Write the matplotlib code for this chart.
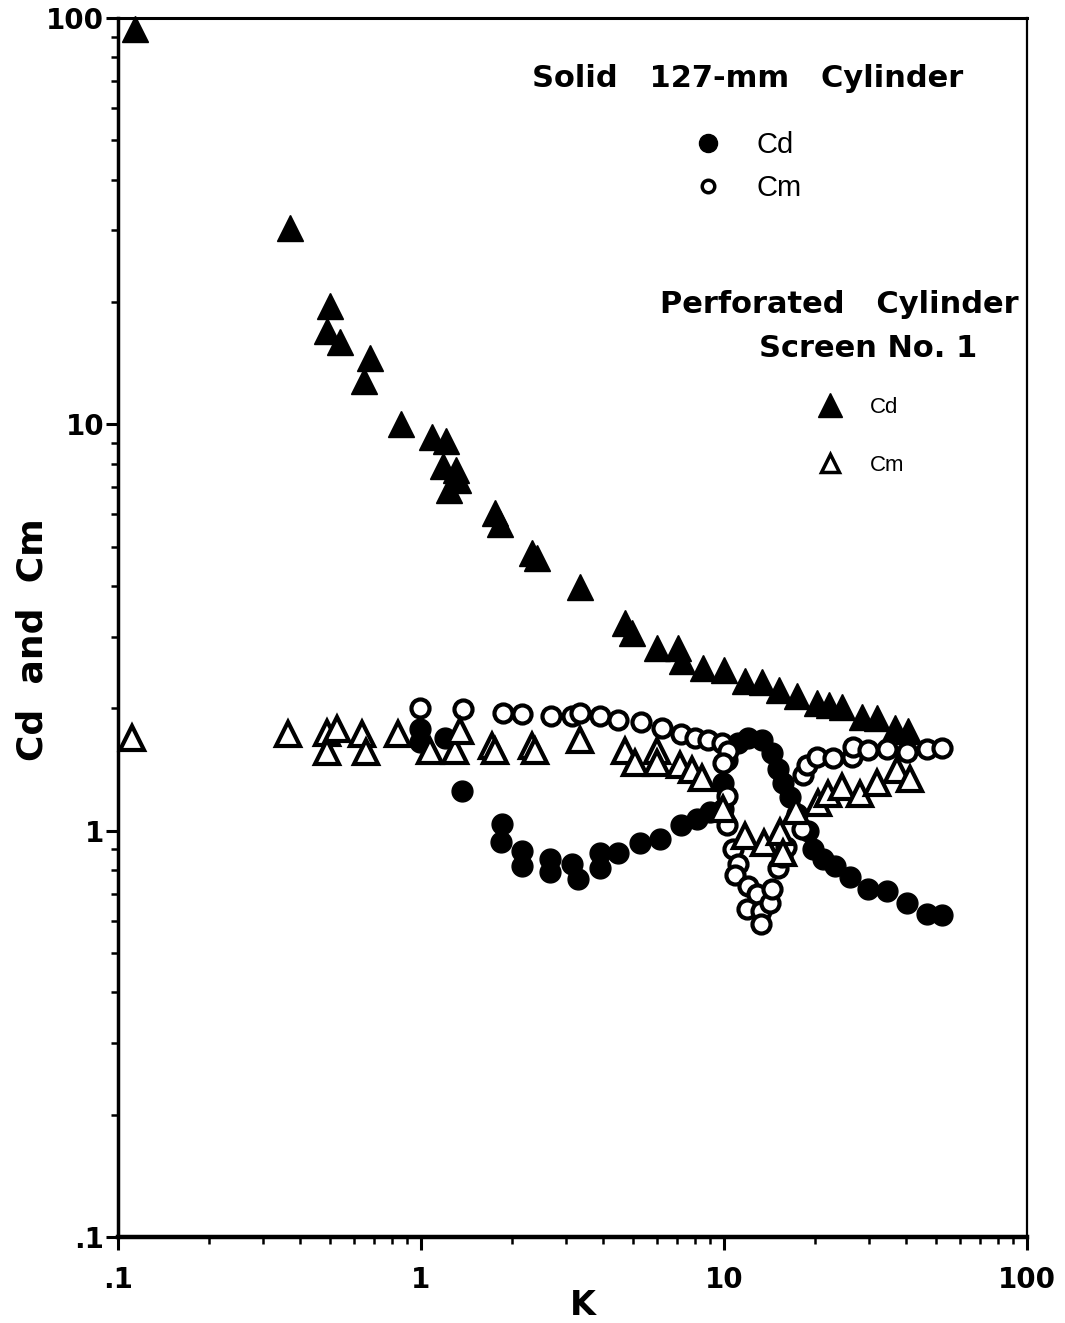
import matplotlib
matplotlib.use("Agg")
import matplotlib.pyplot as plt
from matplotlib.lines import Line2D
from matplotlib.ticker import FixedLocator, FixedFormatter, LogLocator, NullFormatter

plt.rcParams['font.family'] = ['Liberation Sans', 'DejaVu Sans']
BOLD = dict(family='DejaVu Sans', fontweight='bold')

# -- values (K, coefficient) ---------------------------------------------------
# perforated cylinder, screen no. 1 : Cd (filled triangles)
perf_cd_k = [0.114, 0.37, 0.50, 0.49, 0.54, 0.68, 0.65, 0.86, 1.09, 1.21,
             1.18, 1.30, 1.24, 1.32, 1.75, 1.82, 2.32, 2.41, 3.35, 4.71,
             4.97, 6.01, 7.05, 7.27, 8.53, 10.0, 11.7, 13.4, 15.2, 17.4,
             20.3, 22.2, 24.5, 28.5, 32.0, 36.7, 40.5]
perf_cd_c = [94, 30.4, 19.6, 17.0, 15.9, 14.6, 12.8, 10.0, 9.3, 9.1,
             7.9, 7.7, 6.9, 7.3, 6.04, 5.70, 4.81, 4.68, 3.97, 3.24,
             3.06, 2.82, 2.82, 2.62, 2.52, 2.49, 2.33, 2.32, 2.22, 2.15,
             2.06, 2.04, 2.02, 1.90, 1.89, 1.79, 1.76]

# perforated cylinder : Cm (open triangles)
perf_cm_k = [0.111, 0.364, 0.49, 0.53, 0.49, 0.64, 0.66, 0.84, 1.07, 1.29,
             1.34, 1.71, 1.75, 2.32, 2.38, 3.35, 4.71, 5.09, 6.01, 6.01,
             7.16, 7.84, 8.46, 9.93, 11.7, 13.6, 15.3, 15.7, 17.3, 20.4,
             22.0, 24.5, 28.1, 32.0, 37.2, 41.1]
perf_cm_c = [1.69, 1.73, 1.74, 1.78, 1.56, 1.73, 1.56, 1.73, 1.57, 1.57,
             1.76, 1.62, 1.57, 1.62, 1.57, 1.67, 1.57, 1.47, 1.57, 1.47,
             1.45, 1.41, 1.35, 1.13, 0.97, 0.93, 0.99, 0.88, 1.12, 1.17,
             1.23, 1.28, 1.23, 1.31, 1.41, 1.34]

# solid 127-mm cylinder : Cd (filled circles)
solid_cd_k = [0.99, 0.99, 1.20, 1.37, 1.85, 1.83, 2.15, 2.15, 2.67, 2.67,
              3.15, 3.30, 3.90, 3.90, 4.47, 5.28, 6.15, 7.21, 8.15, 8.99,
              9.93, 9.93, 10.2, 11.1, 12.0, 13.3, 14.4, 15.1, 15.7, 16.5,
              17.4, 18.9, 19.7, 21.2, 23.2, 26.1, 29.9, 34.5, 40.2, 46.8,
              52.4]
solid_cd_c = [1.78, 1.65, 1.69, 1.25, 1.04, 0.94, 0.89, 0.82, 0.85, 0.79,
              0.83, 0.76, 0.88, 0.81, 0.88, 0.93, 0.955, 1.03, 1.07, 1.11,
              1.13, 1.31, 1.49, 1.64, 1.69, 1.67, 1.55, 1.42, 1.31, 1.21,
              1.10, 1.00, 0.90, 0.85, 0.82, 0.77, 0.72, 0.71, 0.665, 0.625,
              0.62]

# solid cylinder : Cm (open circles)
solid_cm_k = [0.99, 1.38, 1.87, 2.15, 2.69, 3.15, 3.35, 3.90, 4.47, 5.32,
              6.24, 7.21, 8.02, 8.85, 9.85, 10.3, 9.93, 10.2, 10.2, 10.7,
              11.1, 10.9, 12.0, 12.9, 11.9, 13.2, 13.2, 14.2, 14.4, 15.1,
              15.5, 16.0, 18.1, 18.2, 18.8, 20.3, 22.9, 26.4, 26.6, 29.9,
              34.5, 40.2, 46.8, 52.4]
solid_cm_c = [2.00, 1.99, 1.95, 1.94, 1.92, 1.92, 1.95, 1.92, 1.87, 1.85,
              1.79, 1.73, 1.69, 1.67, 1.64, 1.57, 1.47, 1.22, 1.03, 0.90,
              0.83, 0.78, 0.73, 0.70, 0.64, 0.635, 0.59, 0.665, 0.72, 0.81,
              0.86, 0.91, 1.01, 1.37, 1.45, 1.52, 1.51, 1.52, 1.61, 1.58,
              1.59, 1.56, 1.59, 1.60]

tick_vals = [0.1, 1, 10, 100]
tick_labels = ['.1', '1', '10', '100']

# ------------------------------------------------------------------------------
fig = plt.figure(figsize=(10.65, 13.23), dpi=100)
ax = fig.add_axes([0.1108, 0.065, 0.8535, 0.9214])
ax.set_xscale('log')
ax.set_yscale('log')
ax.set_xlim(0.1, 100)
ax.set_ylim(0.1, 100)

# filled first, open (white face) on top as in the scan
ax.plot(solid_cd_k, solid_cd_c, ls='none', marker='o', ms=15, color='black',
        clip_on=False, zorder=3)
ax.plot(perf_cd_k, perf_cd_c, ls='none', marker='^', ms=19, color='black',
        clip_on=False, zorder=3)
ax.plot(solid_cm_k, solid_cm_c, ls='none', marker='o', ms=13, mfc='white',
        mec='black', mew=3, clip_on=False, zorder=4)
ax.plot(perf_cm_k, perf_cm_c, ls='none', marker='^', ms=17, mfc='white',
        mec='black', mew=3, clip_on=False, zorder=4)

# axes styling
for side, lw in (('left', 2.5), ('bottom', 3.2), ('top', 2.2), ('right', 1.6)):
    ax.spines[side].set_linewidth(lw)
ax.xaxis.set_major_locator(FixedLocator(tick_vals))
ax.xaxis.set_major_formatter(FixedFormatter(tick_labels))
ax.yaxis.set_major_locator(FixedLocator(tick_vals))
ax.yaxis.set_major_formatter(FixedFormatter(tick_labels))
ax.xaxis.set_minor_locator(LogLocator(base=10, subs=range(2, 10)))
ax.yaxis.set_minor_locator(LogLocator(base=10, subs=range(2, 10)))
ax.xaxis.set_minor_formatter(NullFormatter())
ax.yaxis.set_minor_formatter(NullFormatter())
ax.tick_params(which='major', direction='out', length=9, width=2.2,
               labelsize=20)
ax.tick_params(which='minor', direction='out', length=5, width=1.8)
ax.tick_params(axis='y', which='major', pad=1)
ax.tick_params(axis='x', which='major', pad=12)
for lab in ax.get_xticklabels() + ax.get_yticklabels():
    lab.set_fontfamily('DejaVu Sans')
    lab.set_fontweight('bold')

ax.set_xlabel('K', fontsize=24, **BOLD)
ax.xaxis.set_label_coords(0.511, -0.043)
ax.set_ylabel('Cd  and  Cm', fontsize=26, **BOLD)
ax.yaxis.set_label_coords(-0.075, 0.49)

# legend blocks
ax.text(0.693, 0.943, 'Solid   127-mm   Cylinder', transform=ax.transAxes,
        ha='center', va='baseline', fontsize=22, **BOLD)
solid_handles = [
    Line2D([], [], ls='none', marker='o', ms=13, color='black'),
    Line2D([], [], ls='none', marker='o', ms=9, mfc='white', mec='black', mew=2.5),
]
leg1 = ax.legend(solid_handles, ['Cd', 'Cm'], loc='upper left',
                 bbox_to_anchor=(0.633, 0.907), frameon=False, fontsize=21,
                 handlelength=1, handletextpad=1.15, labelspacing=0.5,
                 borderpad=0, borderaxespad=0)
ax.add_artist(leg1)

ax.text(0.991, 0.758, 'Perforated   Cylinder', transform=ax.transAxes,
        ha='right', va='baseline', fontsize=22, **BOLD)
ax.text(0.945, 0.722, 'Screen No. 1', transform=ax.transAxes,
        ha='right', va='baseline', fontsize=22, **BOLD)
perf_handles = [
    Line2D([], [], ls='none', marker='^', ms=17, color='black'),
    Line2D([], [], ls='none', marker='^', ms=13, mfc='white', mec='black', mew=2.5),
]
ax.legend(perf_handles, ['Cd', 'Cm'], loc='upper left',
          bbox_to_anchor=(0.771, 0.689), frameon=False, fontsize=16,
          handlelength=1, handletextpad=1.3, labelspacing=1.65,
          borderpad=0, borderaxespad=0)

fig.savefig('out.png', dpi=100)
